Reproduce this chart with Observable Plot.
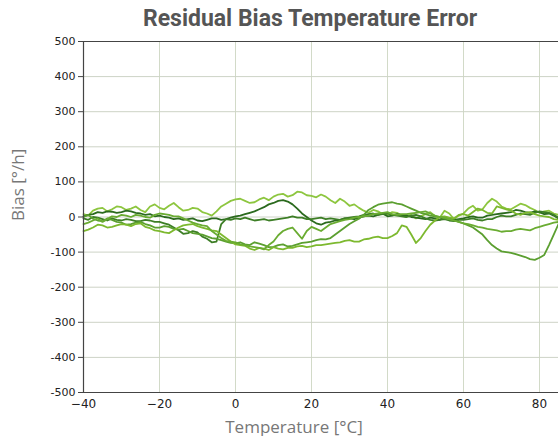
<!DOCTYPE html>
<html>
<head>
<meta charset="utf-8">
<script src="https://cdn.jsdelivr.net/npm/d3@7"></script>
<script src="https://cdn.jsdelivr.net/npm/@observablehq/plot@0.6"></script>
<style>
  body { margin: 0; background: #fff; }
  #title { width: 558px; height: 36px; box-sizing: border-box; padding-left: 62px; text-align: center;
    font-family: Roboto, sans-serif; font-weight: 700; font-size: 23px; color: #555; line-height: 38px; }
</style>
</head>
<body>
<div id="title"></div>
<div id="chart"></div>
<script>
const title = "Residual Bias Temperature Error";
const xLabel = "Temperature [°C]";
const yLabel = "Bias [°/h]";
const xTicks = [-40, -20, 0, 20, 40, 60, 80];
const yTicks = [-500, -400, -300, -200, -100, 0, 100, 200, 300, 400, 500];

// temperature sample points (°C)
const temps = [-40, -38.75, -37.5, -36.25, -35, -33.75, -32.5, -31.25, -30, -28.75,
  -27.5, -26.25, -25, -23.75, -22.5, -21.25, -20, -18.75, -17.5, -16.25,
  -15, -13.75, -12.5, -11.25, -10, -8.75, -7.5, -6.25, -5, -3.75,
  -2.5, -1.25, 0, 1.25, 2.5, 3.75, 5, 6.25, 7.5, 8.75,
  10, 11.25, 12.5, 13.75, 15, 16.25, 17.5, 18.75, 20, 21.25,
  22.5, 23.75, 25, 26.25, 27.5, 28.75, 30, 31.25, 32.5, 33.75,
  35, 36.25, 37.5, 38.75, 40, 41.25, 42.5, 43.75, 45, 46.25,
  47.5, 48.75, 50, 51.25, 52.5, 53.75, 55, 56.25, 57.5, 58.75,
  60, 61.25, 62.5, 63.75, 65, 66.25, 67.5, 68.75, 70, 71.25,
  72.5, 73.75, 75, 76.25, 77.5, 78.75, 80, 81.25, 82.5, 83.75, 85];

const seriesNames = ["S1", "S2", "S3", "S4", "S5", "S6"];
const seriesColors = ["#8dc63f", "#2b6a1e", "#3d7e26", "#5b9f30", "#7db92f", "#6aac32"];

const s1 = [8, 4, 18, 24, 26, 16, 22, 30, 28, 20,
  24, 30, 20, 14, 30, 36, 26, 22, 32, 40,
  28, 18, 20, 26, 24, 14, 10, 4, 16, 30,
  38, 46, 50, 52, 46, 40, 42, 50, 55, 48,
  58, 64, 66, 58, 62, 72, 70, 62, 60, 56,
  64, 58, 48, 40, 52, 44, 32, 36, 26, 18,
  12, 20, 16, 8, 6, 14, 12, 4, 0, 6,
  -4, 2, 8, 14, 2, -2, 18, 10, -6, 4,
  10, 24, 32, 18, 22, 40, 52, 44, 30, 24,
  22, 30, 38, 34, 26, 20, 12, 16, 18, 10, 6];
const s2 = [2, 6, 8, 14, 12, 16, 15, 12, 14, 18,
  16, 12, 10, 6, 8, 2, 4, 0, -2, -6,
  -4, -8, -6, -4, -10, -12, -8, -4, -4, -8,
  -6, -2, 2, 4, 8, 12, 16, 22, 28, 36,
  40, 46, 48, 44, 36, 24, 10, 0, -10, -18,
  -22, -16, -14, -10, -8, -4, -4, -6, -2, 2,
  4, 2, 6, 10, 2, 4, 8, 6, 4, 0,
  -2, -4, -6, -2, -4, -8, 0, -4, -8, -6,
  -4, 0, 2, -2, -2, 4, 6, 8, 10, 12,
  14, 20, 18, 14, 12, 16, 14, 8, 10, 4, -4];
const s3 = [-4, -8, 0, -2, -6, -10, -4, -8, -10, -6,
  -8, -12, -12, -8, -10, -14, -14, -18, -22, -30,
  -38, -48, -46, -40, -44, -56, -62, -72, -70, -20,
  -6, -8, -4, -6, -2, -6, -10, -8, -6, -10,
  -8, -6, -4, -2, 2, -2, -2, -6, -6, -4,
  -2, -6, -4, -6, -8, -4, -2, 0, 2, 6,
  8, 10, 6, 8, 10, 6, 4, 2, 0, 4,
  6, 2, -4, -8, -10, -8, -6, -10, -12, -8,
  -8, -6, -4, -8, -10, -6, -6, 0, 4, 2,
  2, 6, 10, 8, 6, 12, 16, 14, 12, 6, -2];
const s4 = [0, 6, -5, -10, -12, -4, -8, -14, -16, -22,
  -20, -16, -14, -20, -24, -30, -30, -26, -28, -34,
  -36, -34, -40, -46, -48, -50, -55, -60, -62, -66,
  -70, -74, -75, -72, -78, -80, -72, -76, -80, -86,
  -85, -80, -78, -84, -82, -78, -74, -72, -70, -66,
  -63, -64, -60, -50, -40, -30, -20, -12, -5, 6,
  20, 28, 35, 38, 40, 42, 38, 36, 30, 24,
  18, 12, 8, 4, 2, 0, -4, -6, -10, -14,
  -18, -24, -30, -40, -50, -66, -80, -90, -98, -100,
  -102, -106, -110, -114, -120, -122, -116, -108, -80, -50, -20];
const s5 = [-40, -36, -30, -22, -24, -30, -28, -24, -20, -22,
  -26, -20, -18, -28, -32, -38, -40, -44, -46, -38,
  -30, -24, -22, -20, -26, -30, -34, -38, -40, -50,
  -60, -70, -78, -80, -82, -90, -94, -88, -90, -94,
  -86, -90, -92, -88, -88, -84, -82, -86, -84, -80,
  -80, -78, -76, -74, -72, -68, -66, -70, -70, -64,
  -62, -58, -56, -60, -60, -54, -46, -24, -28, -50,
  -74, -60, -40, -22, -10, 0, 2, -2, -4, 6,
  8, 4, 14, 24, 20, 12, 10, 30, 26, 22,
  18, 10, 6, 12, 14, 8, 4, 2, 0, -6, -8];
const s6 = [-20, -16, -10, -4, -14, -6, 2, 0, 6, 4,
  0, 6, 4, 0, -2, 6, 10, 8, 6, 2,
  2, -4, -10, -16, -20, -24, -26, -40, -50, -60,
  -68, -70, -72, -78, -80, -84, -86, -88, -92, -80,
  -70, -52, -40, -34, -30, -46, -62, -40, -28, -34,
  -40, -30, -20, -16, -12, -8, -6, -2, 0, 2,
  4, 8, 10, 12, 14, 8, 6, 8, 8, 10,
  12, 14, 16, 10, 4, 0, -2, -6, -10, -14,
  -18, -20, -24, -28, -30, -34, -36, -38, -42, -40,
  -40, -36, -34, -36, -38, -32, -28, -24, -20, -16, -14];

document.getElementById("title").textContent = title;

const seriesValues = [s1, s2, s3, s4, s5, s6];
const data = seriesValues.flatMap((vals, i) => vals.map((v, j) => ({series: seriesNames[i], T: temps[j], bias: v})));

const minus = d => d < 0 ? "\u2212" + Math.abs(d) : String(d);

const chart = Plot.plot({
  width: 558,
  height: 400,
  marginTop: 5,
  marginBottom: 44,
  marginLeft: 83,
  marginRight: 0,
  style: {fontFamily: "DejaVu Sans, sans-serif", fontSize: "11px", color: "#222", background: "#fff"},
  x: {domain: [-40, 85], label: null},
  y: {domain: [-500, 500], label: null},
  color: {domain: seriesNames, range: seriesColors},
  marks: [
    Plot.gridX(xTicks, {stroke: "#d2dac8", strokeOpacity: 1}),
    Plot.gridY(yTicks, {stroke: "#cdd3c6", strokeOpacity: 1}),
    Plot.line(data, {x: "T", y: "bias", z: "series", stroke: "series", strokeWidth: 1.8, strokeLinejoin: "round"}),
    Plot.ruleY([500, -500], {stroke: "#444", strokeWidth: 1.2}),
    Plot.ruleX([-40], {stroke: "#444", strokeWidth: 1.2}),
    Plot.axisY(yTicks, {tickSize: 5, tickPadding: 3, tickFormat: d => String(d), fontSize: 11, stroke: "#444"}),
    Plot.axisX(xTicks, {tickSize: 0, tickPadding: 7, tickFormat: minus, fontSize: 12}),
    Plot.text([xLabel], {frameAnchor: "bottom", dx: -27, dy: 40, fontSize: 17, fill: "#777", fontFamily: "Open Sans, sans-serif"}),
    Plot.text([yLabel], {frameAnchor: "left", dx: -65, dy: 4, rotate: -90, fontSize: 17, fill: "#777", fontFamily: "Open Sans, sans-serif"})
  ]
});
document.getElementById("chart").appendChild(chart);
</script>
</body>
</html>
